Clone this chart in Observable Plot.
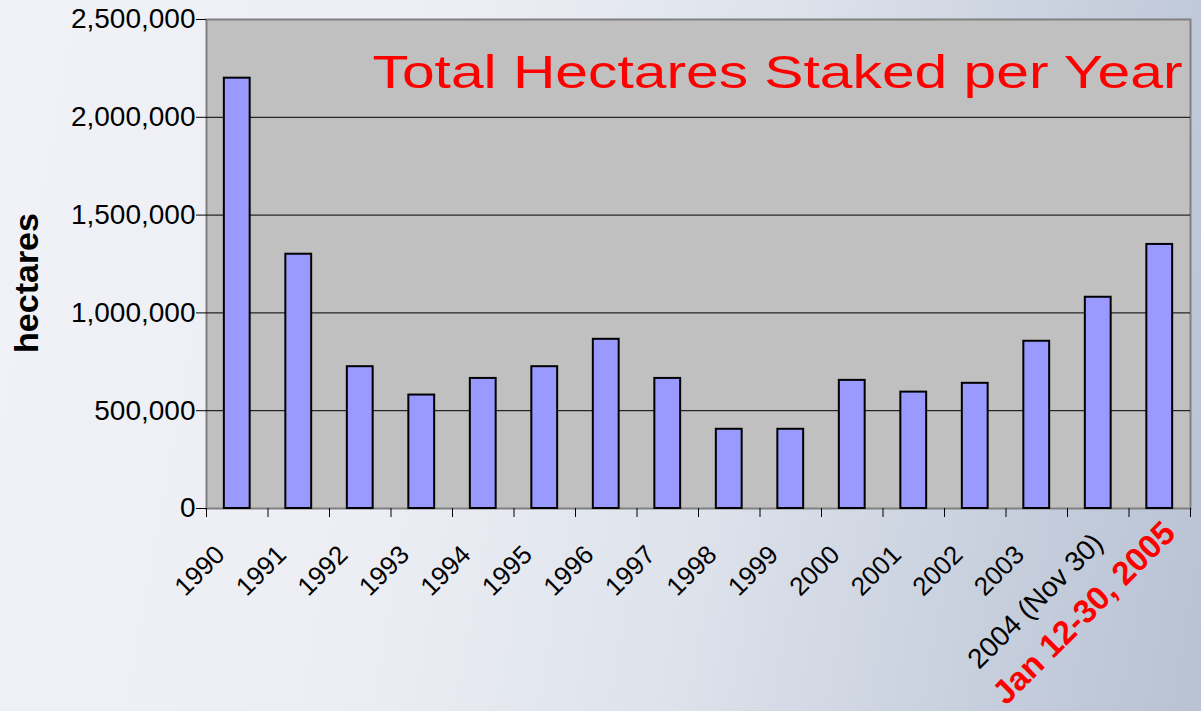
<!DOCTYPE html>
<html>
<head>
<meta charset="utf-8">
<script src="https://cdn.jsdelivr.net/npm/d3@7"></script>
<script src="https://cdn.jsdelivr.net/npm/@observablehq/plot@0.6"></script>
<style>
  html, body { margin: 0; padding: 0; }
  body {
    width: 1201px; height: 711px; overflow: hidden;
    background: linear-gradient(100deg, #f1f2f7 0%, #eceef4 35%, #dde2eb 60%, #c8d0de 82%, #b8c2d3 100%);
    font-family: "Liberation Sans", Arial, sans-serif;
  }
  #chart svg { display: block; }
</style>
</head>
<body>
<div id="chart"></div>
<script>
const years = ["1990","1991","1992","1993","1994","1995","1996","1997","1998","1999","2000","2001","2002","2003","2004 (Nov 30)","Jan 12-30, 2005"];
const hectares = [2200000,1300000,725000,580000,665000,725000,865000,665000,405000,405000,655000,595000,640000,855000,1080000,1350000];
const yTicks = [0,500000,1000000,1500000,2000000,2500000];
const gridTicks = [500000,1000000,1500000,2000000];
const titleText = "Total Hectares Staked per Year";
const yLabel = "hectares";

const data = years.map((y, i) => ({year: y, value: hectares[i]}));

const W = 1201, H = 711, ML = 206, MR = 11, MT = 19, MB = 203;
const step = (W - ML - MR) / years.length;
const last = years[years.length - 1];
const secondLast = years[years.length - 2];

const chart = Plot.plot({
  width: W, height: H,
  marginLeft: ML, marginRight: MR, marginTop: MT, marginBottom: MB,
  style: {background: "transparent", fontFamily: "'Liberation Sans', Arial, sans-serif", fontSize: "26px", color: "#000", overflow: "visible"},
  x: {domain: years, paddingInner: 0.58, paddingOuter: 0.29, round: false, axis: null},
  y: {domain: [0, 2500000], axis: null},
  marks: [
    Plot.frame({fill: "#c0c0c0", stroke: "#808080", strokeWidth: 2}),
    Plot.gridY(gridTicks, {stroke: "#000", strokeOpacity: 1, strokeWidth: 1}),
    Plot.barY(data, {x: "year", y: "value", fill: "#9999ff", stroke: "#000", strokeWidth: 2}),
    Plot.axisY(yTicks, {tickFormat: d3.format(","), tickSize: 10, tickPadding: 1, fontSize: 28, label: null, stroke: "#000"}),
    Plot.axisX(years, {tickFormat: () => "", tickSize: 9, dx: -step / 2, label: null}),
    Plot.axisX([last], {tickFormat: () => "", tickSize: 9, dx: step / 2, label: null}),
    Plot.axisX(years.slice(0, -2), {tickSize: 0, tickRotate: -45, fontSize: 26, tickPadding: 42, label: null, dx: -17}),
    Plot.axisX([secondLast], {tickSize: 0, tickRotate: -45, fontSize: 28, tickPadding: 30, label: null, dx: 0}),
    Plot.axisX([last], {tickSize: 0, tickRotate: -45, fontSize: 33, fontWeight: "bold", fill: "red", tickPadding: 19, label: null, dx: 10}),
    Plot.text([titleText], {frameAnchor: "top-right", dx: -8, dy: 36, fill: "red", fontSize: 46, textAnchor: "end", lineAnchor: "top"}),
    Plot.text([yLabel], {frameAnchor: "left", rotate: -90, dx: -179, dy: 19, fontSize: 34, fontWeight: "bold", fill: "#000", textAnchor: "middle"})
  ]
});

chart.querySelectorAll("text").forEach(t => {
  if (t.textContent === titleText) {
    t.setAttribute("textLength", "810");
    t.setAttribute("lengthAdjust", "spacingAndGlyphs");
  }
});

document.getElementById("chart").appendChild(chart);
</script>
</body>
</html>
